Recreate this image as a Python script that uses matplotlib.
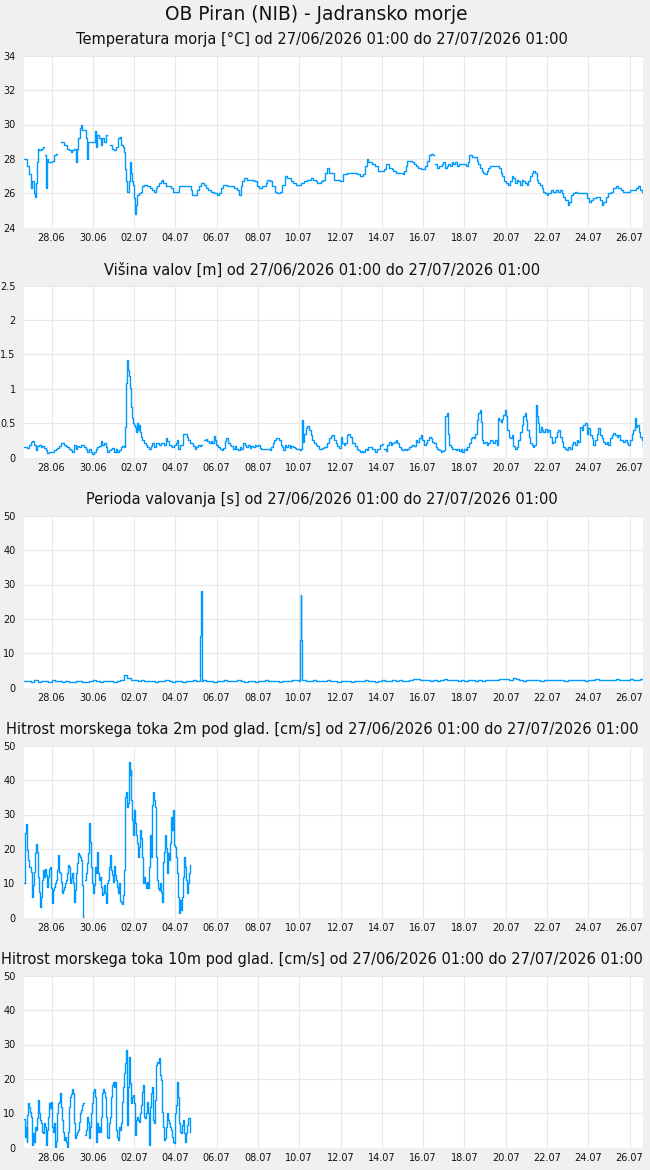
import numpy as np
import matplotlib
matplotlib.use("Agg")
import matplotlib.pyplot as plt

nan = np.nan

# ---------------- data (hours since 27/06/2026 01:00) ----------------
tick_labels = ["28.06", "30.06", "02.07", "04.07", "06.07", "08.07", "10.07", "12.07",
               "14.07", "16.07", "18.07", "20.07", "22.07", "24.07", "26.07"]
tick_hours = [32, 80, 128, 176, 224, 272, 320, 368, 416, 464, 512, 560, 608, 656, 704]

temp_hours = [0.0, 3.9, 6.2, 7.8, 9.7, 11.6, 13.2, 14.0, 14.7, 16.3, 17.8, 19.4, 21.3, 22.5, 23.3,
              24.8, 25.6, 26.4, 27.9, 30.2, 32.9, 34.9, 36.8, 38.8,
              43.4, 46.5, 49.6, 52.3, 54.3, 56.2, 58.1, 60.1, 62.0, 63.2, 64.7, 65.9, 67.8, 69.8,
              71.7, 73.6, 74.4, 77.5, 81.4, 82.5, 83.7, 85.3, 87.2, 89.1, 91.1, 93.0, 94.9, 96.1,
              100.0, 102.7, 104.6, 107.0, 109.3, 111.6, 113.2, 114.7, 116.3, 117.4, 118.6, 119.7,
              121.7, 122.8, 124.0, 125.6, 127.1, 128.3, 129.4, 130.6, 131.8, 133.7, 135.6, 137.6,
              139.5, 143.4, 146.5, 149.2, 151.1, 153.1, 155.0, 156.9, 158.9, 160.4, 162.0, 164.7,
              165.6, 166.6, 170.5, 173.6, 177.5, 180.2, 186.0, 189.9, 193.8, 195.7, 199.6, 201.5,
              203.4, 205.4, 207.3, 209.3, 211.2, 214.3, 217.0, 220.9, 224.8, 226.7, 229.4, 231.7,
              236.4, 240.3, 244.1, 248.0, 249.9, 251.9, 253.8, 255.8, 259.6, 263.5, 267.4, 271.3,
              273.2, 277.1, 280.9, 282.9, 286.0, 288.7, 291.4, 294.5, 297.6, 300.3, 303.0, 306.1,
              310.0, 313.1, 315.8, 318.5, 321.6, 325.5, 329.4, 333.3, 336.4, 339.1, 341.0, 344.9,
              348.0, 349.9, 351.9, 354.6, 357.7, 360.5, 365.5, 367.4, 371.3, 375.2, 379.1, 382.9,
              386.8, 390.7, 394.6, 396.5, 398.4, 400.4, 404.2, 408.1, 410.1, 412.0, 415.9, 418.6,
              420.9, 422.5, 424.8, 427.5, 429.4, 432.5, 437.2, 440.3, 441.8, 444.2, 445.7, 447.6,
              450.7, 453.5, 455.8, 458.5, 461.2, 463.5, 466.2, 469.0, 471.3, 473.2, 475.9, 476.9,
              478.3, 480.6, 482.9, 485.6, 487.6, 489.5, 491.4, 493.4, 495.3, 497.2, 499.2, 501.1,
              503.1, 505.8, 508.9, 510.8, 513.9, 515.8, 517.8, 520.5, 523.2, 526.3, 528.2, 530.2,
              532.1, 534.1, 536.0, 537.9, 539.9, 541.8, 545.7, 549.6, 552.7, 554.2, 556.1, 558.1,
              560.4, 563.1, 565.0, 567.0, 568.9, 570.9, 572.8, 574.7, 576.7, 578.6, 580.6, 582.5,
              584.4, 586.4, 588.3, 590.2, 592.2, 594.1, 596.1, 598.0, 599.9, 601.9, 603.8, 605.7,
              607.7, 609.6, 612.3, 615.4, 618.5, 621.2, 623.2, 625.1, 627.1, 629.0, 630.9, 632.9,
              634.0, 635.6, 637.9, 640.6, 643.3, 646.4, 650.3, 653.4, 655.0, 656.5, 658.8, 661.9,
              665.0, 667.7, 669.7, 671.6, 672.8, 674.7, 676.7, 679.4, 682.1, 685.2, 688.3, 691.0,
              693.7, 696.8, 700.7, 704.6, 708.4, 711.5, 714.2, 716.2, 718.1, 720.0]
temp_values = [28.0, 27.6, 27.1, 26.3, 26.7, 26.0, 25.8, 26.6, 27.8, 28.6, 28.5, 28.6, 28.6, 28.7, nan,
               28.2, 26.3, 28.0, 27.8, 27.8, 27.9, 28.2, 28.3, nan,
               29.0, 28.8, 28.6, 28.5, 28.4, 28.5, 28.6, 27.8, 28.6, 29.2, 29.8, 30.0, 29.7, 29.7,
               29.2, 28.0, 29.0, 29.0, 29.0, 29.6, 28.7, 29.4, 29.2, 28.8, 29.2, 29.0, 29.4, nan,
               28.8, 28.6, 28.5, 28.7, 29.2, 29.3, 28.8, 28.7, 28.4, 27.4, 26.7, 26.1,
               26.7, 27.8, 27.2, 26.7, 26.5, 25.7, 24.8, 25.3, 25.9, 26.0, 26.1, 26.4,
               26.5, 26.4, 26.3, 26.2, 26.1, 26.3, 26.4, 26.6, 26.7, 26.8, 26.6, 26.4,
               nan, 26.4, 26.3, 26.1, 26.1, 26.4, 26.4, 26.4, 26.2, 25.9, 25.9, 26.2,
               26.4, 26.6, 26.6, 26.5, 26.3, 26.2, 26.1, 26.0, 25.9, 26.0, 26.3, 26.5,
               26.4, 26.4, 26.3, 26.2, 25.9, 26.4, 26.7, 26.9, 26.8, 26.8, 26.7, 26.4,
               26.3, 26.4, 26.6, 26.8, 26.7, 26.4, 26.1, 26.0, 26.1, 26.5, 27.0, 26.9,
               26.7, 26.6, 26.5, 26.5, 26.6, 26.7, 26.8, 26.9, 26.8, 26.7, 26.6, 26.7,
               26.8, 27.2, 27.5, 27.2, 27.2, 26.8, 26.8, 26.7, 27.1, 27.2, 27.2, 27.2,
               27.1, 27.0, 27.1, 27.6, 28.0, 27.8, 27.7, 27.6, 27.6, 27.3, 27.3, 27.4,
               27.7, 27.7, 27.5, 27.4, 27.3, 27.2, 27.2, 27.1, 27.3, 27.6, 27.9, 27.9,
               27.8, 27.7, 27.6, 27.5, 27.4, 27.4, 27.6, 27.9, 28.2, 28.3, 28.2, nan,
               27.7, 27.5, 27.6, 27.7, 27.8, 27.5, 27.6, 27.7, 27.6, 27.8, 27.7, 27.8,
               27.6, 27.7, 27.7, 27.7, 27.6, 27.8, 28.2, 28.1, 28.1, 27.9, 27.7, 27.5,
               27.3, 27.2, 27.1, 27.3, 27.5, 27.6, 27.6, 27.6, 27.5, 27.2, 27.0, 26.7,
               26.6, 26.5, 26.7, 27.0, 26.9, 26.6, 26.8, 26.7, 26.5, 26.8, 26.7, 26.6,
               26.5, 26.7, 27.0, 27.2, 27.3, 27.2, 26.8, 26.6, 26.5, 26.3, 26.1, 26.0,
               25.9, 26.0, 26.2, 26.1, 26.2, 26.1, 26.2, 26.0, 25.8, 25.6, 25.6, 25.3,
               25.5, 25.9, 26.0, 26.1, 26.0, 26.0, 26.0, 26.0, 25.7, 25.5, 25.6, 25.7,
               25.8, 25.8, 25.6, 25.3, 25.5, 25.5, 25.8, 26.0, 26.1, 26.3, 26.4, 26.3,
               26.2, 26.1, 26.1, 26.2, 26.2, 26.3, 26.4, 26.2, 26.1, 26.0]

wave_hours = [0.0, 3.9, 5.8, 7.8, 9.7, 11.6, 13.6, 15.5, 17.4, 19.4, 21.3, 23.3, 25.2, 27.1, 29.1, 31.0,
              32.9, 34.9, 36.8, 38.8, 40.7, 42.6, 44.6, 46.5, 48.4, 50.4, 52.3, 54.3, 56.2, 58.1,
              60.1, 62.0, 63.9, 65.9, 67.8, 69.8, 71.7, 73.6, 75.6, 77.5, 79.4, 81.4, 83.3, 85.3,
              87.2, 89.1, 91.1, 93.0, 94.9, 96.9, 98.8, 100.8, 102.7, 104.6, 106.6, 108.5, 110.4,
              112.4, 114.3, 116.3, 117.4, 118.6, 119.7, 120.9, 122.1, 123.2, 124.4, 125.6, 126.7,
              127.9, 129.0, 130.2, 131.4, 132.5, 133.7, 134.9, 135.6, 137.6, 139.5, 141.4, 143.4,
              145.3, 147.3, 149.2, 151.1, 153.1, 155.0, 156.9, 158.9, 160.8, 162.8, 164.7, 166.6,
              168.6, 170.5, 172.4, 174.4, 176.3, 178.3, 179.4, 181.0, 182.9, 185.2, 187.2, 189.1,
              190.7, 192.6, 194.5, 196.5, 198.4, 200.3, 202.3, 204.2, 206.2, 207.5, 209.3, 211.2,
              213.1, 215.1, 217.0, 218.9, 220.9, 222.0, 223.6, 225.9, 227.9, 229.8, 231.7, 233.7,
              235.2, 237.2, 239.1, 241.0, 243.0, 244.9, 246.8, 248.8, 250.7, 252.7, 254.6, 256.5,
              258.5, 260.4, 262.3, 264.3, 266.2, 268.1, 270.1, 272.0, 274.0, 275.9, 277.8, 279.8,
              281.7, 283.6, 285.6, 287.5, 289.1, 290.6, 292.6, 294.5, 296.4, 298.4, 300.3, 301.5,
              303.0, 305.0, 306.9, 308.8, 310.8, 312.7, 314.6, 316.6, 318.5, 320.4, 322.4, 323.6,
              324.7, 325.9, 327.4, 329.4, 331.3, 333.3, 335.2, 337.1, 339.1, 341.0, 342.9, 344.9,
              346.8, 348.8, 350.7, 352.6, 354.6, 356.5, 358.4, 360.4, 362.3, 364.2, 366.2, 368.1,
              370.1, 372.0, 373.2, 375.2, 377.1, 379.1, 381.0, 382.9, 384.9, 386.8, 388.7, 390.7,
              392.6, 394.6, 396.5, 398.4, 400.4, 402.3, 404.2, 406.2, 408.1, 410.1, 412.0, 413.9,
              415.9, 416.9, 419.0, 420.9, 422.5, 424.4, 426.3, 428.3, 430.2, 432.1, 434.1, 436.0,
              437.9, 439.9, 441.8, 443.8, 445.7, 447.6, 449.6, 451.5, 453.5, 455.4, 457.3, 459.3,
              461.2, 463.1, 465.1, 467.0, 469.0, 470.9, 472.8, 474.8, 476.7, 478.6, 480.6, 482.5,
              484.5, 486.4, 488.3, 489.9, 491.4, 493.0, 494.5, 496.1, 498.0, 500.0, 501.9, 503.8,
              505.8, 507.7, 509.6, 511.6, 513.5, 515.5, 517.4, 519.3, 521.3, 523.2, 524.8, 526.3,
              528.2, 529.8, 531.0, 532.5, 534.1, 536.0, 537.9, 539.9, 541.8, 543.7, 545.7, 547.6,
              549.6, 551.1, 552.7, 554.2, 555.8, 557.3, 558.9, 560.4, 562.0, 563.5, 565.1, 567.0,
              568.9, 570.9, 572.8, 574.7, 576.7, 578.6, 580.6, 582.5, 583.7, 585.2, 586.8, 588.3,
              590.2, 592.2, 593.3, 594.9, 596.1, 597.6, 599.2, 600.7, 602.3, 603.8, 605.7, 607.7,
              609.6, 611.6, 613.5, 615.4, 617.4, 619.3, 621.2, 623.2, 625.1, 627.1, 629.0, 630.9,
              632.9, 634.8, 636.7, 638.7, 640.6, 642.6, 644.5, 646.4, 648.4, 650.3, 652.2, 654.2,
              656.1, 658.1, 660.0, 661.9, 663.9, 665.8, 667.7, 669.7, 671.6, 673.6, 675.5, 677.4,
              679.4, 681.3, 683.2, 685.2, 687.1, 689.1, 691.0, 692.9, 694.9, 696.8, 698.7, 700.7,
              702.6, 704.6, 706.5, 708.4, 710.4, 711.5, 713.1, 714.6, 716.2, 718.1, 720.0]
wave_values = [0.16, 0.14, 0.18, 0.23, 0.24, 0.18, 0.11, 0.17, 0.19, 0.15, 0.17, 0.14, 0.11, 0.07, 0.09, 0.08,
               0.08, 0.11, 0.13, 0.14, 0.17, 0.21, 0.22, 0.19, 0.17, 0.16, 0.12, 0.11, 0.08, 0.19,
               0.13, 0.17, 0.16, 0.18, 0.19, 0.16, 0.12, 0.08, 0.12, 0.09, 0.06, 0.08, 0.12, 0.16,
               0.17, 0.24, 0.19, 0.22, 0.16, 0.08, 0.11, 0.12, 0.14, 0.09, 0.12, 0.08, 0.11,
               0.16, 0.17, 0.16, 0.45, 1.09, 1.42, 1.28, 1.19, 1.01, 0.74, 0.57, 0.50,
               0.48, 0.45, 0.38, 0.50, 0.40, 0.47, 0.38, 0.30, 0.25, 0.21, 0.18, 0.16,
               0.13, 0.17, 0.21, 0.16, 0.21, 0.22, 0.18, 0.21, 0.22, 0.19, 0.28, 0.24,
               0.18, 0.17, 0.16, 0.18, 0.22, 0.25, 0.13, 0.18, 0.19, 0.34, 0.35, 0.30,
               0.25, 0.22, 0.21, 0.17, 0.13, 0.15, 0.18, 0.17, 0.18, nan, 0.25, 0.27,
               0.24, 0.22, 0.24, 0.22, 0.32, 0.25, 0.18, 0.16, 0.12, 0.11, 0.14, 0.24,
               0.28, 0.22, 0.19, 0.17, 0.13, 0.17, 0.12, 0.11, 0.16, 0.13, 0.21, 0.18,
               0.16, 0.19, 0.14, 0.17, 0.16, 0.18, 0.17, 0.18, 0.14, 0.12, 0.13, 0.13,
               0.12, 0.13, 0.11, 0.16, 0.21, 0.25, 0.28, 0.29, 0.25, 0.19, 0.16, 0.11,
               0.18, 0.16, 0.18, 0.14, 0.17, 0.16, 0.14, 0.13, 0.12, 0.11, 0.13, 0.55,
               0.23, 0.35, 0.43, 0.46, 0.40, 0.33, 0.25, 0.22, 0.18, 0.17, 0.13, 0.12,
               0.14, 0.16, 0.16, 0.22, 0.29, 0.32, 0.33, 0.25, 0.22, 0.17, 0.14, 0.30,
               0.22, 0.19, 0.21, 0.33, 0.35, 0.30, 0.22, 0.21, 0.17, 0.12, 0.11, 0.08,
               0.10, 0.08, 0.13, 0.11, 0.16, 0.15, 0.12, 0.13, 0.08, 0.12, 0.13, 0.18,
               0.20, nan, 0.12, 0.10, 0.18, 0.23, 0.18, 0.21, 0.23, 0.26, 0.21, 0.16,
               0.12, 0.11, 0.13, 0.11, 0.13, 0.16, 0.17, 0.18, 0.17, 0.25, 0.23, 0.28,
               0.33, 0.25, 0.18, 0.21, 0.26, 0.30, 0.28, 0.23, 0.21, 0.16, 0.13, 0.11,
               0.08, 0.10, 0.11, 0.60, 0.65, 0.35, 0.18, 0.16, 0.12, 0.13, 0.11, 0.12,
               0.10, 0.12, 0.08, 0.13, 0.11, 0.15, 0.21, 0.28, 0.30, 0.29, 0.35, 0.55,
               0.65, 0.69, 0.52, 0.25, 0.21, 0.23, 0.18, 0.22, 0.25, 0.24, 0.22, 0.25,
               0.18, 0.57, 0.55, 0.52, 0.56, 0.62, 0.69, 0.60, 0.40, 0.30, 0.28, 0.33,
               0.17, 0.13, 0.15, 0.25, 0.38, 0.48, 0.60, 0.65, 0.55, 0.40, 0.30, 0.22,
               0.18, 0.16, 0.18, 0.77, 0.60, 0.50, 0.38, 0.45, 0.40, 0.38, 0.41, 0.38,
               0.40, 0.30, 0.21, 0.23, 0.30, 0.38, 0.40, 0.30, 0.23, 0.16, 0.13, 0.11,
               0.16, 0.13, 0.20, 0.23, 0.18, 0.25, 0.23, 0.45, 0.40, 0.48, 0.50, 0.35,
               0.43, 0.33, 0.28, 0.18, 0.25, 0.35, 0.43, 0.33, 0.28, 0.23, 0.20, 0.23,
               0.18, 0.28, 0.33, 0.36, 0.33, 0.30, 0.33, 0.26, 0.25, 0.23, 0.25, 0.21,
               0.18, 0.25, 0.35, 0.40, 0.57, 0.45, 0.48, 0.38, 0.30, 0.25, 0.16]

period_grid_step = 4
period_base = [1.9, 2.0, 1.8, 2.1, 1.7, 2.0, 1.9, 1.8, 2.1, 1.9, 2.0, 1.8,
               1.9, 1.7, 1.8, 2.0, 1.9, 1.8, 1.7, 1.9, 2.1, 2.0, 1.8, 1.9,
               2.0, 1.9, 1.8, 2.0, 2.1, 3.8, 2.8, 2.3, 2.2, 2.0, 2.1, 1.9,
               2.0, 1.9, 1.8, 2.0, 1.9, 2.1, 1.9, 1.8, 2.0, 1.9, 1.8, 1.9,
               2.0, 2.1, 1.9, 2.0, 2.1, 1.9, 2.0, 1.8, 1.9, 2.0, 2.1, 1.9,
               2.0, 1.9, 2.1, 2.0, 1.8, 2.0, 1.9, 1.8, 2.0, 1.9, 2.1, 2.0,
               1.9, 2.0, 1.8, 1.9, 2.0, 2.0, 2.1, 2.2, 2.0, 2.1, 1.9, 2.0,
               2.1, 2.0, 1.9, 2.0, 2.1, 2.0, 1.9, 1.8, 2.0, 2.0, 1.9, 1.8,
               2.0, 1.9, 2.0, 2.1, 2.0, 1.9, 1.8, 2.0, 2.1, 1.9, 2.0, 2.2,
               2.0, 2.1, 2.0, 1.9, 2.2, 2.6, 2.5, 2.3, 2.1, 2.2, 2.0, 2.1,
               2.0, 2.2, 2.6, 2.3, 2.1, 2.2, 2.0, 2.1, 2.0, 2.2, 2.1, 2.0,
               2.1, 2.0, 2.2, 2.1, 2.3, 2.2, 2.4, 2.6, 2.5, 2.3, 2.7, 2.4,
               2.2, 2.0, 2.3, 2.2, 2.1, 2.2, 2.0, 2.2, 2.1, 2.3, 2.2, 2.1,
               2.2, 2.0, 2.1, 2.3, 2.2, 2.1, 2.2, 2.0, 2.3, 2.2, 2.4, 2.3,
               2.2, 2.1, 2.3, 2.2, 2.4, 2.3, 2.2, 2.3, 2.4, 2.3, 2.2, 2.4,
               2.3]
period_spike_hours = [204.5, 205.5, 206.5, 207.5, 320.5, 321.5, 322.5, 323.5]
period_spike_values = [15.0, 28.0, 15.0, 2.0, 14.0, 27.0, 14.0, 2.1]

cur2_hours = [0.0, 0.8, 1.2, 2.3, 3.1, 4.7, 6.2, 7.8, 8.9, 9.7, 10.9, 12.0, 12.8, 14.0, 14.7, 15.9,
              17.1, 18.2, 19.4, 20.5, 21.7, 22.9, 24.0, 25.2, 26.4, 27.5, 28.7, 29.8, 31.0, 32.2,
              33.3, 34.5, 35.7, 36.8, 38.0, 39.1, 40.3, 41.5, 42.6, 43.8, 45.0, 46.1, 47.3, 48.4,
              49.6, 50.8, 51.9, 53.1, 54.3, 55.4, 56.6, 57.7, 58.9, 60.1, 61.2, 62.4, 63.6, 64.7,
              65.9, 67.0, 68.2, 69.0, 70.0, 71.3, 72.1, 73.2, 74.4, 75.2, 76.0, 76.7, 77.9, 79.1,
              80.2, 81.4, 82.5, 83.7, 84.9, 86.0, 87.2, 88.4, 89.5, 90.7, 91.8, 93.0, 94.2, 95.3,
              96.5, 97.7, 98.8, 100.0, 101.1, 102.3, 103.5, 104.6, 105.8, 107.0, 108.1, 109.3,
              110.4, 111.6, 112.8, 113.9, 115.1, 116.3, 117.0, 118.2, 119.4, 120.5, 121.7, 122.5,
              123.2, 124.0, 124.8, 125.6, 126.3, 127.5, 128.7, 129.8, 131.0, 132.1, 133.3, 134.5,
              135.6, 136.8, 138.0, 139.1, 140.3, 141.4, 142.6, 143.8, 144.9, 146.1, 147.3, 148.4,
              149.6, 150.7, 151.9, 153.1, 154.2, 155.4, 156.6, 157.7, 158.9, 160.0, 161.2, 162.4,
              163.5, 164.7, 165.9, 167.0, 168.2, 169.3, 170.5, 171.7, 172.8, 174.0, 175.2, 176.3,
              177.5, 178.6, 179.8, 181.0, 182.1, 183.3, 184.5, 185.6, 186.8, 188.0, 189.1, 190.3,
              191.4, 192.6]
cur2_values = [10.0, 16.1, 24.5, 27.2, 19.7, 16.8, 14.8, 13.4, 9.0, 6.1, 9.5, 13.4, 18.7, 21.4, 19.2, 11.9,
               7.6, 3.2, 6.1, 11.0, 13.9, 11.9, 14.3, 12.4, 9.0, 11.9, 14.3, 14.8, 8.5, 4.2,
               8.0, 9.0, 10.0, 11.0, 13.9, 18.2, 13.4, 12.9, 10.5, 7.1, 8.0, 9.0, 10.0, 11.0,
               12.9, 15.3, 14.8, 10.0, 11.4, 12.9, 10.0, 4.7, 8.0, 12.9, 15.8, 18.7, 18.2, 17.7,
               16.8, 9.5, 3.2, 0.0, nan, 11.0, 12.9, 15.8, 18.7, 22.1, 27.4, 22.1, 14.8, 10.0,
               7.1, 9.5, 14.8, 12.9, 19.2, 12.9, 11.0, 11.9, 9.0, 6.6, 7.1, 9.5, 7.1, 4.2,
               10.0, 11.0, 14.8, 18.2, 13.9, 12.4, 10.5, 15.1, 12.4, 11.0, 9.0, 7.1,
               10.0, 4.8, 4.7, 4.0, 6.6, 13.9, 35.2, 36.6, 32.3, 33.2, 38.6, 45.3,
               41.5, 42.9, 34.2, 28.4, 24.0, 31.3, 27.4, 24.0, 21.6, 17.7, 20.6, 25.5,
               23.1, 17.7, 10.0, 11.9, 10.0, 8.5, 10.5, 8.5, 14.8, 24.0, 17.7, 32.8,
               36.6, 34.2, 32.3, 17.7, 11.0, 8.5, 8.0, 10.0, 7.6, 4.7, 16.3, 19.2,
               24.0, 20.2, 12.9, 18.7, 16.8, 21.6, 29.4, 25.5, 31.3, 21.1, 20.6, 17.7,
               12.9, 6.1, 1.3, 5.1, 2.2, 6.1, 11.9, 17.7, 14.8, 11.0, 7.1, 10.0,
               12.9, 15.3]

cur10_hours = [0.0, 0.8, 1.5, 2.3, 3.1, 3.9, 5.0, 6.2, 7.4, 8.5, 9.7, 10.9, 12.0, 13.2, 14.3, 15.5,
               16.7, 17.8, 19.0, 20.2, 21.3, 22.5, 23.6, 24.8, 26.0, 27.1, 28.3, 29.5, 30.6, 31.8,
               32.9, 34.1, 35.3, 36.4, 37.6, 38.7, 39.9, 41.1, 42.2, 43.4, 44.6, 45.7, 46.9, 48.0,
               49.2, 50.4, 51.5, 52.7, 53.9, 55.0, 56.2, 57.3, 58.5, 59.7, 60.8, 62.0, 63.2, 64.3,
               65.5, 66.6, 67.8, 69.0, 69.6, 71.3, 72.5, 73.6, 74.8, 76.0, 77.1, 78.3, 79.4, 80.6,
               81.8, 82.9, 84.1, 85.3, 86.4, 87.6, 88.7, 89.9, 91.1, 92.2, 93.4, 94.6, 95.7, 96.9,
               98.0, 99.2, 100.4, 101.5, 102.7, 103.9, 105.0, 106.2, 107.3, 108.5, 109.7, 110.8,
               112.0, 113.2, 114.3, 115.5, 116.6, 117.4, 118.2, 119.4, 120.1, 120.9, 121.7, 122.5,
               123.2, 124.0, 125.2, 126.3, 127.5, 128.7, 129.8, 131.0, 132.1, 133.3, 134.5, 135.6,
               136.8, 138.0, 139.1, 140.3, 141.4, 142.6, 143.8, 144.9, 146.1, 147.3, 148.4, 149.6,
               150.7, 151.9, 153.1, 154.2, 155.4, 156.6, 157.7, 158.9, 160.0, 161.2, 162.4, 163.5,
               164.7, 165.9, 167.0, 168.2, 169.3, 170.5, 171.7, 172.8, 174.0, 175.2, 176.3, 177.5,
               178.6, 179.8, 181.0, 182.1, 183.3, 184.5, 185.6, 186.8, 188.0, 189.1, 190.3, 191.4,
               192.6]
cur10_values = [8.2, 6.1, 3.2, 6.1, 1.7, 9.5, 12.9, 11.9, 10.5, 9.0, 0.8, 4.2, 1.7, 6.1, 5.1, 8.5,
                13.9, 10.0, 8.0, 7.1, 4.7, 4.2, 7.1, 6.1, 0.8, 5.1, 9.0, 12.9, 11.4, 13.4,
                6.1, 4.7, 7.1, 0.3, 2.0, 10.0, 12.9, 13.4, 15.8, 11.9, 8.0, 4.7, 2.2, 3.2,
                1.7, 0.3, 4.7, 11.9, 14.8, 15.5, 17.2, 15.8, 7.1, 2.7, 3.7, 4.7, 5.1, 7.6,
                10.0, 11.1, 12.4, 13.1, nan, 3.7, 5.1, 9.0, 7.6, 2.7, 6.1, 10.0, 12.9, 16.3,
                17.2, 14.8, 1.7, 7.1, 4.7, 6.1, 4.7, 9.0, 15.8, 17.2, 16.3, 14.8, 9.0, 3.2,
                2.7, 7.1, 9.0, 14.8, 18.2, 19.2, 17.7, 19.2, 5.1, 3.2, 2.2, 6.1,
                5.1, 7.1, 13.4, 17.7, 21.6, 24.5, 28.4, 22.6, 6.6, 17.7, 22.1, 26.5,
                18.7, 12.9, 14.8, 15.3, 12.9, 3.7, 8.0, 9.0, 8.0, 7.6, 10.0, 12.4,
                16.3, 18.2, 9.0, 8.5, 10.0, 13.4, 10.0, 0.8, 11.9, 15.8, 17.7, 8.0,
                7.1, 13.9, 24.0, 25.0, 24.5, 26.0, 21.1, 19.7, 10.5, 6.1, 2.2, 2.7,
                6.1, 10.0, 8.0, 7.1, 6.1, 5.1, 3.2, 1.7, 1.3, 10.0, 12.4, 19.2,
                14.8, 7.1, 4.7, 4.2, 6.6, 8.0, 4.2, 1.7, 4.2, 6.6, 8.5, 8.5,
                4.7]

# ---------------- figure ----------------
W, H = 650, 1170
BG = "#f0f0f0"
LINE = "#0099ff"
GRID = "#e8e8e8"
plt.rcParams["font.family"] = ["DejaVu Sans"]

fig = plt.figure(figsize=(W / 100, H / 100), dpi=100, facecolor=BG)

ax_left, ax_right = 24.0, 643.3
ax_h = 172.0
tops = [55.7, 285.7, 515.7, 745.7, 975.7]

fig.text(316 / W, 1 - 14 / H, "OB Piran (NIB) - Jadransko morje", ha="center", va="center",
         fontsize=13.4, color="#111111")

titles = [
    "Temperatura morja [°C] od 27/06/2026 01:00 do 27/07/2026 01:00",
    "Višina valov [m] od 27/06/2026 01:00 do 27/07/2026 01:00",
    "Perioda valovanja [s] od 27/06/2026 01:00 do 27/07/2026 01:00",
    "Hitrost morskega toka 2m pod glad. [cm/s] od 27/06/2026 01:00 do 27/07/2026 01:00",
    "Hitrost morskega toka 10m pod glad. [cm/s] od 27/06/2026 01:00 do 27/07/2026 01:00",
]
ylims = [(24, 34), (0, 2.5), (0, 50), (0, 50), (0, 50)]
yticks = [
    [24, 26, 28, 30, 32, 34],
    [0, 0.5, 1, 1.5, 2, 2.5],
    [0, 10, 20, 30, 40, 50],
    [0, 10, 20, 30, 40, 50],
    [0, 10, 20, 30, 40, 50],
]
yticklabels = [
    ["24", "26", "28", "30", "32", "34"],
    ["0", "0.5", "1", "1.5", "2", "2.5"],
    ["0", "10", "20", "30", "40", "50"],
    ["0", "10", "20", "30", "40", "50"],
    ["0", "10", "20", "30", "40", "50"],
]

period_grid = np.arange(0, 721, period_grid_step)
p_h = np.concatenate([period_grid, period_spike_hours])
p_v = np.concatenate([period_base, period_spike_values])
order = np.argsort(p_h, kind="stable")
p_h, p_v = p_h[order], p_v[order]

series = [
    (temp_hours, temp_values),
    (wave_hours, wave_values),
    (p_h, p_v),
    (cur2_hours, cur2_values),
    (cur10_hours, cur10_values),
]

for i, top in enumerate(tops):
    ax = fig.add_axes([ax_left / W, 1 - (top + ax_h) / H, (ax_right - ax_left) / W, ax_h / H])
    ax.set_facecolor("white")
    for s in ax.spines.values():
        s.set_visible(False)
    ax.set_xlim(0, 720)
    ax.set_ylim(*ylims[i])
    ax.set_xticks(tick_hours)
    ax.set_xticklabels(tick_labels)
    ax.set_yticks(yticks[i])
    ax.set_yticklabels(yticklabels[i])
    ax.tick_params(length=0, labelsize=7, colors="#111111")
    ax.tick_params(axis="y", pad=6)
    ax.tick_params(axis="x", pad=4)
    ax.grid(True, color=GRID, linewidth=0.8)
    ax.set_axisbelow(True)
    hx, vy = series[i]
    ax.plot(hx, vy, color=LINE, linewidth=1.0, drawstyle="steps-post", clip_on=True)
    fig.text(322 / W, 1 - (top - 16) / H, titles[i], ha="center", va="center",
             fontsize=10.5, color="#111111")

fig.savefig("out.png", dpi=100, facecolor=BG)
